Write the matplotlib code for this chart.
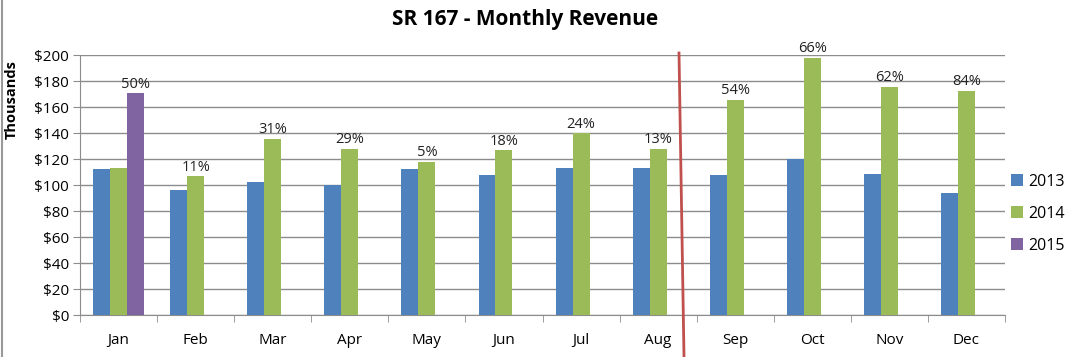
import matplotlib
matplotlib.use("Agg")
import matplotlib.pyplot as plt
import numpy as np
from matplotlib.lines import Line2D

plt.rcParams['font.family'] = ['Open Sans', 'DejaVu Sans']

months = ['Jan', 'Feb', 'Mar', 'Apr', 'May', 'Jun', 'Jul', 'Aug', 'Sep', 'Oct', 'Nov', 'Dec']
rev_2013 = [112, 96, 102.5, 100, 112, 107.5, 113, 113, 107.5, 120, 108.5, 93.5]
rev_2014 = [113, 107, 135.5, 128, 118, 127, 140, 128, 165.5, 198, 175.5, 172.5]
rev_2015 = [170.5, 0, 0, 0, 0, 0, 0, 0, 0, 0, 0, 0]
growth = ['50%', '11%', '31%', '29%', '5%', '18%', '24%', '13%', '54%', '66%', '62%', '84%']

c13 = '#4F81BD'
c14 = '#9BBB59'
c15 = '#8064A2'
grid_c = '#8C8C8C'

fig = plt.figure(figsize=(10.73, 3.57), dpi=100)
ax = fig.add_axes([80/1073, 1-315/357, 925/1073, 260/357])

x = np.arange(len(months))
w = 0.22
ax.bar(x - w, rev_2013, w, color=c13, label='2013', zorder=3)
ax.bar(x, rev_2014, w, color=c14, label='2014', zorder=3)
ax.bar(x + w, rev_2015, w, color=c15, label='2015', zorder=3)

# growth labels above the latest bar of each month
for i in range(len(months)):
    if rev_2015[i] > 0:
        xi, yi = x[i] + w, rev_2015[i]
    else:
        xi, yi = x[i], rev_2014[i]
    ax.annotate(growth[i], (xi, yi), xytext=(0, 1), textcoords='offset points',
                ha='center', va='bottom', fontsize=10.5, color='#222222')

ax.set_xlim(-0.5, 11.5)
ax.set_ylim(0, 200)
ax.set_yticks(range(0, 201, 20))
ax.set_yticklabels(['$%d' % v for v in range(0, 201, 20)], fontsize=11)
ax.set_xticks(x)
ax.set_xticklabels(months, fontsize=11)
ax.set_xticks(np.arange(-0.5, 12, 1), minor=True)
ax.tick_params(axis='x', which='major', length=0, pad=13)
ax.tick_params(axis='x', which='minor', length=5, color=grid_c, direction='out')
ax.tick_params(axis='y', length=5, color=grid_c, pad=3)
ax.grid(axis='y', color=grid_c, linewidth=1, zorder=0)
for s in ['top', 'right']:
    ax.spines[s].set_visible(False)
for s in ['left', 'bottom']:
    ax.spines[s].set_color(grid_c)
ax.set_ylabel('Thousands', fontsize=10.5, fontweight='bold')
ax.yaxis.set_label_coords(-0.066, 0.83)

fig.text(525/1073, 1-20/357, 'SR 167 - Monthly Revenue', ha='center', va='center',
         fontsize=15, fontweight='bold')

ax.legend(loc='center left', bbox_to_anchor=(1.0, 0.39), borderaxespad=0, frameon=False,
          fontsize=11.5, handlelength=0.7, handleheight=0.7, labelspacing=1.0,
          handletextpad=0.35)

# red divider line and left border
fig.add_artist(Line2D([679/1073, 684/1073], [1-53/357, 0], color='#C0504D', linewidth=2))
fig.add_artist(Line2D([1.5/1073, 1.5/1073], [0, 1], color='#999999', linewidth=1.5))

fig.savefig('out.png', dpi=100)
